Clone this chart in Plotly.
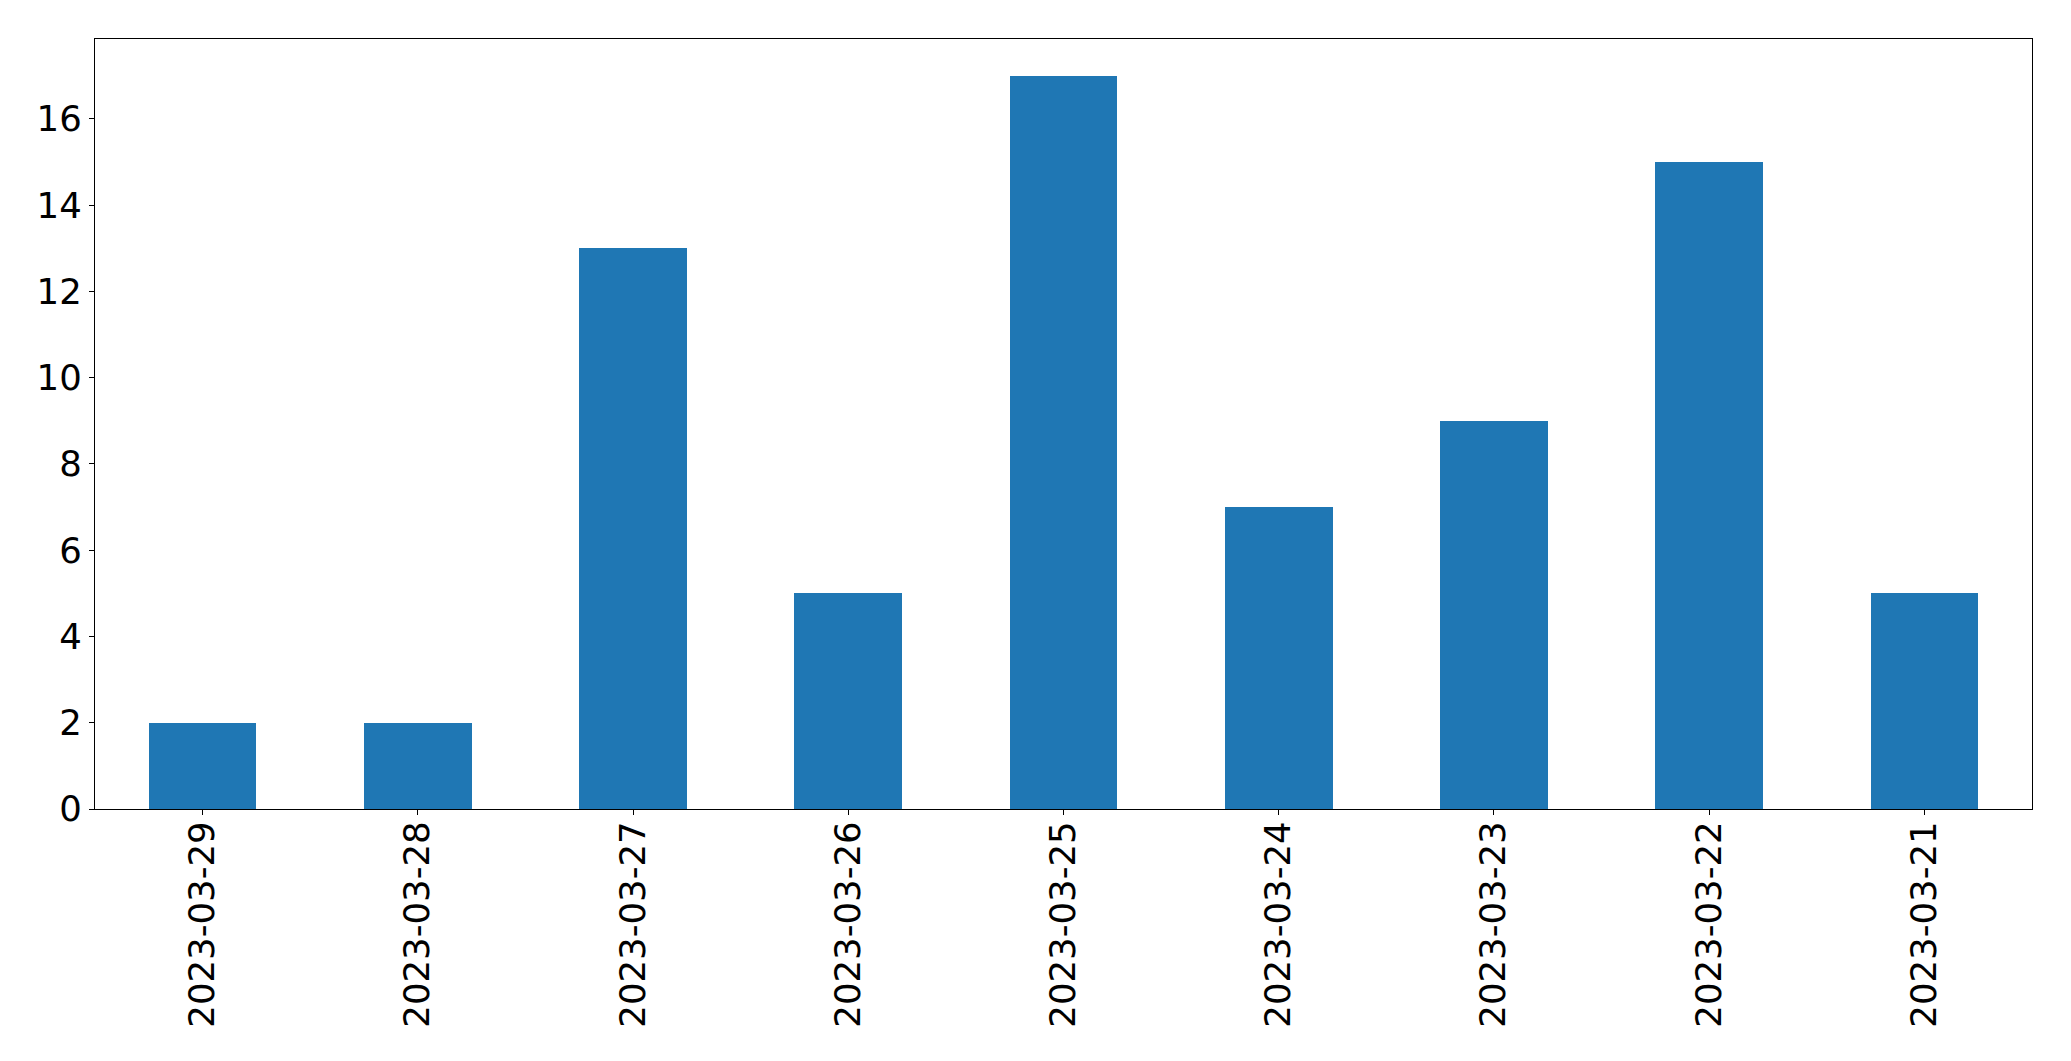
import plotly.graph_objects as go

dates = ["2023-03-29", "2023-03-28", "2023-03-27", "2023-03-26", "2023-03-25",
         "2023-03-24", "2023-03-23", "2023-03-22", "2023-03-21"]
counts = [2, 2, 13, 5, 17, 7, 9, 15, 5]
y_ticks = [0, 2, 4, 6, 8, 10, 12, 14, 16]

fig = go.Figure(go.Bar(x=list(range(len(dates))), y=counts, width=0.5,
                       marker=dict(color="#1f77b4", line=dict(width=0))))

# page body has an 8px default margin; compensate so the axes land where the reference has them
fig.update_layout(
    width=2063, height=1053,
    margin=dict(l=87, r=39, t=31, b=252),
    plot_bgcolor="white", paper_bgcolor="white",
    font=dict(family="DejaVu Sans", size=35.5, color="black"),
    showlegend=False,
    bargap=0,
)
fig.update_xaxes(
    range=[-0.5, 8.5], tickmode="array", tickvals=list(range(len(dates))), ticktext=dates,
    tickangle=-90, showline=True, mirror=True, linecolor="black", linewidth=1.3,
    ticks="outside", ticklen=5, tickwidth=1.3, tickcolor="black", showgrid=False,
    zeroline=False, ticklabelstandoff=-8,
)
fig.update_yaxes(
    range=[0, 17.85], tickmode="array", tickvals=y_ticks,
    showline=True, mirror=True, linecolor="black", linewidth=1.3,
    ticks="outside", ticklen=5, tickwidth=1.3, tickcolor="black", showgrid=False,
    zeroline=False, ticklabelstandoff=0,
)
fig.write_html("out.html")
